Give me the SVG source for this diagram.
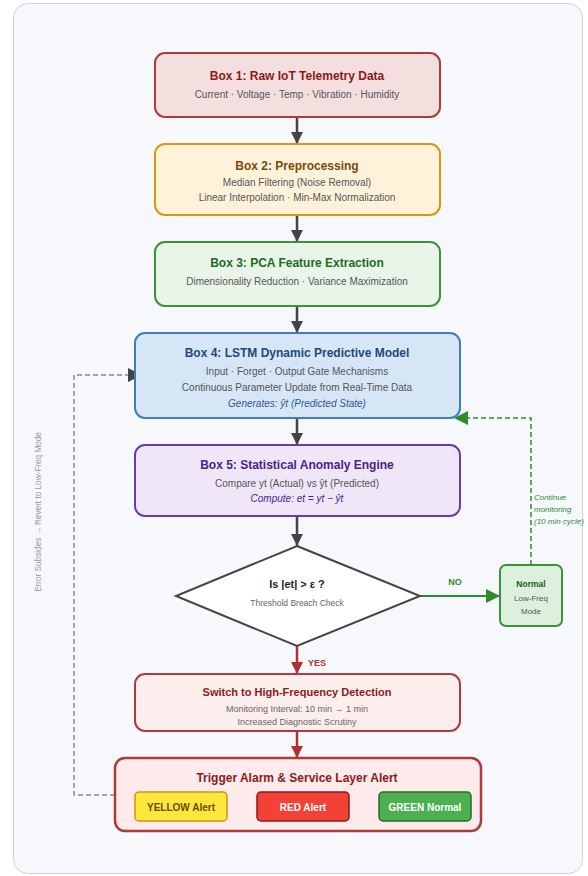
<svg xmlns="http://www.w3.org/2000/svg" width="588" height="876" viewBox="0 0 588 876">
<defs>
<marker id="ar" viewBox="0 0 10 10" refX="10" refY="5" markerWidth="12" markerHeight="20" orient="auto" markerUnits="userSpaceOnUse"><path d="M0,0 L10,5 L0,10 Z" fill="#b03030"/></marker>
<marker id="ag" viewBox="0 0 10 10" refX="10" refY="5" markerWidth="14" markerHeight="16" orient="auto" markerUnits="userSpaceOnUse"><path d="M0,0 L10,5 L0,10 Z" fill="#2e8b2e"/></marker>
<marker id="ak" viewBox="0 0 10 10" refX="10" refY="5" markerWidth="12" markerHeight="20" orient="auto" markerUnits="userSpaceOnUse"><path d="M0,0 L10,5 L0,10 Z" fill="#444"/></marker>
<marker id="akd" viewBox="0 0 10 10" refX="10" refY="5" markerWidth="14" markerHeight="16" orient="auto" markerUnits="userSpaceOnUse"><path d="M0,0 L10,5 L0,10 Z" fill="#444"/></marker>
</defs>
<style>
text{font-family:"Liberation Sans",Arial,sans-serif;text-anchor:middle}
.t{font-size:12px;font-weight:bold}
.s{font-size:10px;fill:#555}
.i{font-size:10px;font-style:italic}
.dk{stroke:#444;stroke-width:2.5;fill:none}
</style>
<rect x="13.5" y="3.5" width="569" height="870" rx="14" fill="#f7f8fc" stroke="#cfd2d8"/>

<g id="connectors">
<line x1="297" y1="117" x2="297" y2="144" class="dk" marker-end="url(#ak)"/>
<line x1="297" y1="215" x2="297" y2="242" class="dk" marker-end="url(#ak)"/>
<line x1="297" y1="306" x2="297" y2="333" class="dk" marker-end="url(#ak)"/>
<line x1="297" y1="418" x2="297" y2="445" class="dk" marker-end="url(#ak)"/>
<line x1="297" y1="516" x2="297" y2="546" class="dk" marker-end="url(#ak)"/>
<line x1="297" y1="646" x2="297" y2="674" stroke="#b03030" stroke-width="2.5" marker-end="url(#ar)"/>
<line x1="297" y1="731" x2="297" y2="758" stroke="#b03030" stroke-width="2.5" marker-end="url(#ar)"/>
<line x1="420" y1="596" x2="500" y2="596" stroke="#2e8b2e" stroke-width="2" marker-end="url(#ag)"/>
<polyline points="531,565 531,418 454,418" fill="none" stroke="#2e8b2e" stroke-width="1.5" stroke-dasharray="5,3" marker-end="url(#ag)"/>
<polyline points="115,795 74,795 74,375 142,375" fill="none" stroke="#888" stroke-width="1.5" stroke-dasharray="5,3" marker-end="url(#akd)"/>
<text x="317" y="666" font-size="9" font-weight="bold" fill="#b03030">YES</text>
<text x="455" y="585" font-size="9" font-weight="bold" fill="#2e8b2e">NO</text>
<text x="534" y="500" font-size="8" font-style="italic" fill="#2e8b2e" style="text-anchor:start">Continue</text>
<text x="534" y="512" font-size="8" font-style="italic" fill="#2e8b2e" style="text-anchor:start">monitoring</text>
<text x="534" y="524" font-size="8" font-style="italic" fill="#2e8b2e" style="text-anchor:start">(10 min cycle)</text>
<text transform="translate(41,512) rotate(-90)" font-size="8.2" fill="#999">Error Subsides → Revert to Low-Freq Mode</text>
</g>

<g id="box1">
<rect x="155" y="53" width="285" height="64" rx="10" fill="#f5dede" stroke="#b03a3a" stroke-width="2"/>
<text x="297" y="80" class="t" fill="#8b1a1a">Box 1: Raw IoT Telemetry Data</text>
<text x="297" y="98" class="s">Current · Voltage · Temp · Vibration · Humidity</text>
</g>
<g id="box2">
<rect x="155" y="144" width="285" height="71" rx="10" fill="#fff2db" stroke="#d9960f" stroke-width="2"/>
<text x="297" y="170" class="t" fill="#7a4a0a">Box 2: Preprocessing</text>
<text x="297" y="186" class="s">Median Filtering (Noise Removal)</text>
<text x="297" y="201" class="s">Linear Interpolation · Min-Max Normalization</text>
</g>
<g id="box3">
<rect x="155" y="242" width="285" height="64" rx="10" fill="#eaf5ea" stroke="#3a933a" stroke-width="2"/>
<text x="297" y="267" class="t" fill="#1e6b1e">Box 3: PCA Feature Extraction</text>
<text x="297" y="285" class="s">Dimensionality Reduction · Variance Maximization</text>
</g>
<g id="box4">
<rect x="135" y="333" width="325" height="85" rx="10" fill="#d6e6f7" stroke="#3a7ec0" stroke-width="2"/>
<text x="297" y="357" class="t" fill="#1e4a7a">Box 4: LSTM Dynamic Predictive Model</text>
<text x="297" y="375" class="s">Input · Forget · Output Gate Mechanisms</text>
<text x="297" y="391" class="s">Continuous Parameter Update from Real-Time Data</text>
<text x="297" y="407" class="i" fill="#2e5a8a">Generates: ŷt (Predicted State)</text>
</g>
<g id="box5">
<rect x="135" y="445" width="325" height="71" rx="10" fill="#efe6f7" stroke="#6a3ab0" stroke-width="2"/>
<text x="297" y="469" class="t" fill="#4a1e8f">Box 5: Statistical Anomaly Engine</text>
<text x="297" y="487" class="s">Compare yt (Actual) vs ŷt (Predicted)</text>
<text x="297" y="502" class="i" fill="#4a1e8f">Compute: et = yt − ŷt</text>
</g>
<g id="decision">
<polygon points="297,546 420,596 297,646 176,596" fill="#fff" stroke="#444" stroke-width="2"/>
<text x="297" y="588" font-size="11" font-weight="bold" fill="#222">Is |et| &gt; ε ?</text>
<text x="297" y="606" font-size="8.5" fill="#666">Threshold Breach Check</text>
</g>
<g id="normal">
<rect x="500" y="565" width="62" height="61" rx="6" fill="#ddf0dd" stroke="#3a933a" stroke-width="2"/>
<text x="531" y="587" font-size="8.5" font-weight="bold" fill="#1e5a1e">Normal</text>
<text x="531" y="601" font-size="8" fill="#555">Low-Freq</text>
<text x="531" y="614" font-size="8" fill="#555">Mode</text>
</g>
<g id="highfreq">
<rect x="135" y="674" width="325" height="57" rx="10" fill="#fdeeee" stroke="#b03a3a" stroke-width="2"/>
<text x="297" y="696" font-size="11" font-weight="bold" fill="#8b1a1a">Switch to High-Frequency Detection</text>
<text x="297" y="712" font-size="9" fill="#666">Monitoring Interval: 10 min → 1 min</text>
<text x="297" y="725" font-size="9" fill="#666">Increased Diagnostic Scrutiny</text>
</g>
<g id="alarm">
<rect x="115" y="758" width="366" height="73" rx="10" fill="#fdeaea" stroke="#b03a3a" stroke-width="2.5"/>
<text x="297" y="782" class="t" fill="#8b1a1a">Trigger Alarm &amp; Service Layer Alert</text>
<g id="yellow">
<rect x="135" y="792" width="92" height="29" rx="4" fill="#fde73a" stroke="#d4900f" stroke-width="1.5"/>
<text x="181" y="811" font-size="10" font-weight="bold" fill="#6a4a00">YELLOW Alert</text>
</g>
<g id="red">
<rect x="257" y="792" width="92" height="29" rx="4" fill="#f24236" stroke="#8b1a1a" stroke-width="1.5"/>
<text x="303" y="811" font-size="10" font-weight="bold" fill="#fff">RED Alert</text>
</g>
<g id="green">
<rect x="379" y="792" width="92" height="29" rx="4" fill="#4caf50" stroke="#2a6a2a" stroke-width="1.5"/>
<text x="425" y="811" font-size="10" font-weight="bold" fill="#fff">GREEN Normal</text>
</g>
</g>
</svg>
